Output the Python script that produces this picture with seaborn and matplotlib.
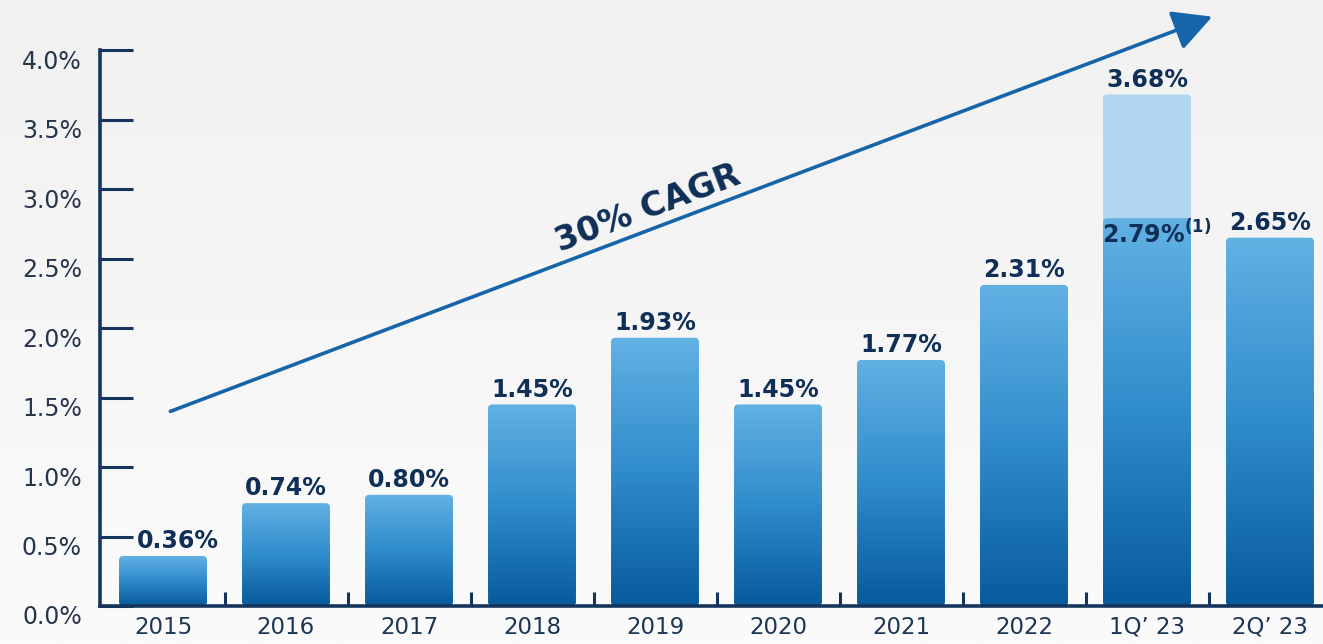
import numpy as np
import matplotlib
matplotlib.use("Agg")
import matplotlib.pyplot as plt
import matplotlib.transforms as mtransforms
import seaborn as sns
from matplotlib.patches import FancyBboxPatch
from matplotlib.colors import LinearSegmentedColormap

# Data
periods = ["2015", "2016", "2017", "2018", "2019", "2020", "2021", "2022", "1Q\u2019 23", "2Q\u2019 23"]
rates = [0.36, 0.74, 0.80, 1.45, 1.93, 1.45, 1.77, 2.31, 2.79, 2.65]
peak_period = ["1Q\u2019 23"]
peak_rate = [3.68]
footnote_period = "1Q\u2019 23"
cagr_label = "30% CAGR"
y_ticks = [0.0, 0.5, 1.0, 1.5, 2.0, 2.5, 3.0, 3.5, 4.0]

NAVY = "#15355c"
TEXT = "#0f2f57"
ARROW = "#1665a9"
LIGHT = "#b0d6f0"
bar_cmap = LinearSegmentedColormap.from_list("bar", ["#075a9b", "#2f8ccb", "#62b1e3"])

sns.set_theme(style="white")
plt.rcParams["font.family"] = ["DejaVu Sans"]

W, H = 1323, 644
fig = plt.figure(figsize=(W / 100, H / 100), dpi=100)

# soft grey backdrop, slightly lighter towards the bottom
bg = fig.add_axes([0, 0, 1, 1], zorder=-10)
grad = np.linspace(0, 1, 256).reshape(-1, 1)
bg.imshow(grad, cmap=LinearSegmentedColormap.from_list("bg", ["#f1f1f1", "#fbfbfb"]),
          aspect="auto", extent=(0, 1, 0, 1), origin="upper")
bg.axis("off")

# plotting area: y axis at x=100 px, zero line at y=606 px, 4.0% at y=50 px
left_px, bottom_px, top_px = 100, 606, 50
ax = fig.add_axes([left_px / W, (H - bottom_px) / H, 1 - left_px / W, (bottom_px - top_px) / H])
ax.set_facecolor("none")

bw = 0.715
sns.barplot(x=peak_period, y=peak_rate, order=periods, ax=ax, width=bw, color=LIGHT)
n_peak = len(ax.patches)
sns.barplot(x=periods, y=rates, order=periods, ax=ax, width=bw, color="#3a93cf")

aspect = 123 / 139
for i, p in enumerate(list(ax.patches)):
    x0, y0 = p.get_x(), p.get_y()
    w, h = p.get_width(), p.get_height()
    p.set_visible(False)
    rounded = FancyBboxPatch((x0, y0), w, h,
                             boxstyle="round,pad=0,rounding_size=0.035",
                             mutation_aspect=aspect, linewidth=0,
                             facecolor=LIGHT if i < n_peak else "none", zorder=2)
    ax.add_patch(rounded)
    if i >= n_peak:
        im = ax.imshow(grad, cmap=bar_cmap, aspect="auto", origin="lower",
                       extent=(x0, x0 + w, y0, y0 + h), zorder=2.1)
        im.set_clip_path(rounded)

# value labels (the first one nudged right to clear the 0.5% tick)
for i, (per, val) in enumerate(zip(periods, rates)):
    if per == footnote_period:
        ax.annotate(f"{val:.2f}%" + r"$^{\mathbf{(1)}}$", xy=(i + 0.08, val),
                    xytext=(0, -1), textcoords="offset points",
                    ha="center", va="top", fontsize=17, fontweight="bold",
                    color=TEXT, zorder=8)
    else:
        dx = 11 if i == 0 else 0
        ax.annotate(f"{val:.2f}%", xy=(i, val), xytext=(dx, 2),
                    textcoords="offset points", ha="center", va="bottom",
                    fontsize=17, fontweight="bold", color=TEXT, zorder=8)
for per, val in zip(peak_period, peak_rate):
    i = periods.index(per)
    ax.annotate(f"{val:.2f}%", xy=(i, val), xytext=(0, 2),
                textcoords="offset points", ha="center", va="bottom",
                fontsize=17, fontweight="bold", color=TEXT, zorder=8)

# growth arrow
ax.annotate("", xy=(8.53, 4.24), xytext=(0.06, 1.40),
            arrowprops=dict(arrowstyle="-|>,head_length=0.8,head_width=0.42",
                            color=ARROW, lw=2.6, mutation_scale=30,
                            shrinkA=0, shrinkB=0, clip_on=False),
            annotation_clip=False, zorder=6)
ax.text(3.94, 2.86, cagr_label, rotation=20.7, rotation_mode="anchor",
        ha="center", va="center", fontsize=24, fontweight="bold",
        color=TEXT, zorder=6)

# axes styling
ax.set_xlim((left_px - 163) / 123, (W - 163) / 123)
ax.set_ylim(0, 4.0)
ax.set_xlabel("")
ax.set_ylabel("")
ax.set_yticks(y_ticks)
ax.set_yticklabels([f"{t:.1f}%" for t in y_ticks])
ax.set_xticks(range(len(periods)))
ax.set_xticklabels(periods)
ax.set_xticks([k + 0.5 for k in range(len(periods) - 1)], minor=True)

for side in ("top", "right"):
    ax.spines[side].set_visible(False)
for side in ("left", "bottom"):
    ax.spines[side].set_color(NAVY)
    ax.spines[side].set_linewidth(2.6)
    ax.spines[side].set_zorder(7)

ax.tick_params(axis="y", direction="in", length=24, width=2.2, color=NAVY,
               labelsize=17, labelcolor="#25364a", pad=13, left=True)
ax.tick_params(axis="x", which="major", length=0, labelsize=16.5,
               labelcolor="#1d3654", pad=7)
ax.tick_params(axis="x", which="minor", direction="in", length=10, width=2.2,
               color=NAVY, bottom=True)

# y labels sit a little below their ticks
shift = mtransforms.ScaledTranslation(0, -9 / 100, fig.dpi_scale_trans)
for lab in ax.get_yticklabels():
    lab.set_transform(lab.get_transform() + shift)

fig.savefig("out.png", dpi=100, facecolor="#f3f3f3")
